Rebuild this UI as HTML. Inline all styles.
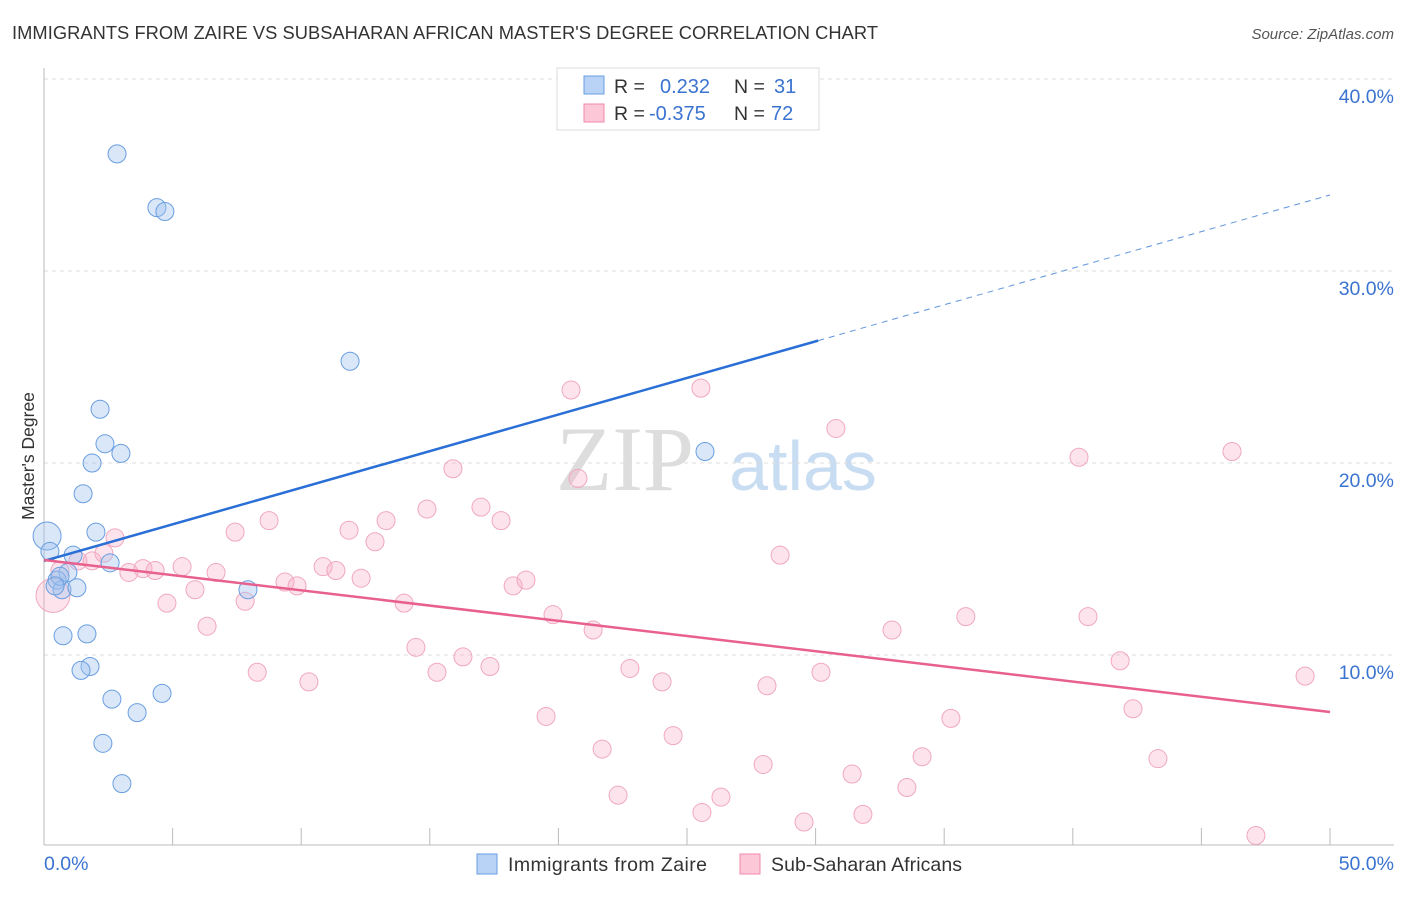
<!DOCTYPE html>
<html><head><meta charset="utf-8"><style>
body{margin:0;background:#fff;font-family:"Liberation Sans",sans-serif;}
</style></head><body>
<svg id="c" width="1406" height="892" xmlns="http://www.w3.org/2000/svg">
<text x="12" y="39" font-size="18.3" fill="#333" textLength="866">IMMIGRANTS FROM ZAIRE VS SUBSAHARAN AFRICAN MASTER'S DEGREE CORRELATION CHART</text>
<text x="1394" y="39" font-size="15" fill="#555" font-style="italic" text-anchor="end">Source: ZipAtlas.com</text>
<text x="625" y="490" font-size="92" fill="#ddd" font-family="Liberation Serif,serif" text-anchor="middle">ZIP</text>
<text x="803" y="490" font-size="70" fill="#c8dcf2" text-anchor="middle">atlas</text>
<text transform="translate(34,456) rotate(-90)" font-size="17.5" fill="#333" text-anchor="middle">Master's Degree</text>
<g id="grid"></g><g id="pts"></g><g id="lines"></g>
<g>
<rect x="557" y="68" width="262" height="62" fill="#fff" stroke="#ddd"/>
<rect x="584" y="76" width="20" height="18" fill="#b8d3f5" stroke="#6a9ee0"/>
<rect x="584" y="104" width="20" height="18" fill="#fcc8d8" stroke="#f08aa8"/>
<text x="614" y="93" font-size="19.5" fill="#333">R = </text><text x="660" y="93" font-size="20" fill="#3a73d0">0.232</text>
<text x="734" y="93" font-size="19.5" fill="#333">N = </text><text x="774" y="93" font-size="20" fill="#3a73d0">31</text>
<text x="614" y="120" font-size="19.5" fill="#333">R = </text><text x="649" y="120" font-size="20" fill="#3a73d0">-0.375</text>
<text x="734" y="120" font-size="19.5" fill="#333">N = </text><text x="771" y="120" font-size="20" fill="#3a73d0">72</text>
</g>
<g>
<rect x="477" y="854" width="20" height="20" fill="#b8d3f5" stroke="#6a9ee0"/>
<text x="508" y="871" font-size="19.5" fill="#333" textLength="199">Immigrants from Zaire</text>
<rect x="740" y="854" width="20" height="20" fill="#fcc8d8" stroke="#f08aa8"/>
<text x="771" y="871" font-size="19.5" fill="#333" textLength="191">Sub-Saharan Africans</text>
</g>
</svg>
<script>
const yTicks=[10,20,30,40];
const yTickLabels=["10.0%","20.0%","30.0%","40.0%"];
const xTicks=[0,5,10,15,20,25,30,35,40,45,50];
const blueX=[2.84,4.39,4.70,11.9,2.18,2.37,2.99,1.87,1.52,2.02,0.12,0.23,1.13,2.57,0.93,0.51,0.70,1.28,7.93,25.7,0.74,1.67,1.79,1.44,2.64,4.59,3.62,2.29,3.03,0.62,0.43];
const blueY=[36.1,33.3,33.1,25.3,22.8,21.0,20.5,20.0,18.4,16.4,16.2,15.4,15.2,14.8,14.3,13.9,13.4,13.5,13.4,20.6,11.0,11.1,9.4,9.2,7.7,8.0,7.0,5.4,3.3,14.1,13.6];
const pinkX=[0.35,0.62,1.32,1.87,2.33,2.76,3.30,3.85,4.32,4.78,5.37,5.87,6.34,6.69,7.43,7.82,8.29,8.75,9.37,9.84,10.30,10.85,11.35,11.86,12.33,12.87,13.30,14.0,14.46,14.89,15.28,15.90,16.29,16.99,17.34,17.77,18.24,18.74,19.52,19.79,20.49,20.76,21.35,21.70,22.32,22.78,24.03,24.46,25.58,25.54,26.32,27.96,28.11,28.62,29.55,30.21,30.79,31.42,31.84,32.97,33.55,34.14,35.26,35.84,40.24,40.59,41.84,42.34,43.31,46.19,47.12,49.03];
const pinkY=[13.1,14.4,14.9,14.9,15.3,16.1,14.3,14.5,14.4,12.7,14.6,13.4,11.5,14.3,16.4,12.8,9.1,17.0,13.8,13.6,8.6,14.6,14.4,16.5,14.0,15.9,17.0,12.7,10.4,17.6,9.1,19.7,9.9,17.7,9.4,17.0,13.6,13.9,6.8,12.1,23.8,19.2,11.3,5.1,2.7,9.3,8.6,5.8,1.8,23.9,2.6,4.3,8.4,15.2,1.3,9.1,21.8,3.8,1.7,11.3,3.1,4.7,6.7,12.0,20.3,12.0,9.7,7.2,4.6,20.6,0.6,8.9];
const blueTrend=[14.9,33.96], blueSolidEnd=30.1;
const pinkTrend=[14.95,7.03];
const NS="http://www.w3.org/2000/svg";
const X=v=>44+v/50*1286, Y=v=>847-v*19.2;
function mk(t,a,p){const e=document.createElementNS(NS,t);for(const k in a)e.setAttribute(k,a[k]);p.appendChild(e);return e;}
const g=document.getElementById('grid'),P=document.getElementById('pts'),L=document.getElementById('lines');
yTicks.forEach((t,i)=>{
 const l=mk('line',{x1:44,x2:1394,y1:Y(t),y2:Y(t),stroke:'#ddd','stroke-dasharray':'4,4'},g);
 
 
 const tx=mk('text',{x:1394,y:Y(t)+24,'font-size':19.5,fill:'#3a73d0','text-anchor':'end'},g);tx.textContent=yTickLabels[i];
 
 
});
const ax=mk('line',{x1:44,x2:44,y1:68,y2:845,stroke:'#bbb'},g);


const bx=mk('line',{x1:44,x2:1394,y1:845,y2:845,stroke:'#bbb'},g);


xTicks.forEach(t=>{if(t===0)return;const l=mk('line',{x1:X(t),x2:X(t),y1:828,y2:845,stroke:'#bbb'},g);
 
 });
const x0=mk('text',{x:44,y:870,'font-size':19.5,fill:'#3a73d0'},g);x0.textContent='0.0%';


const x1=mk('text',{x:1394,y:870,'font-size':19.5,fill:'#3a73d0','text-anchor':'end'},g);x1.textContent='50.0%';


pinkX.forEach((x,i)=>{const c=mk('circle',{cx:X(x),cy:Y(pinkY[i]),r:i===0?17:9,fill:'rgba(248,170,196,0.32)',stroke:'#f0a8be','stroke-width':1},P);
 
 });
blueX.forEach((x,i)=>{const c=mk('circle',{cx:X(x),cy:Y(blueY[i]),r:i===10?14:9,fill:'rgba(160,196,240,0.4)',stroke:'#6a9ee0','stroke-width':1},P);
 
 });
const by=v=>blueTrend[0]+(blueTrend[1]-blueTrend[0])*v/50;
const b1=mk('line',{x1:X(0),y1:Y(by(0)),x2:X(blueSolidEnd),y2:Y(by(blueSolidEnd)),stroke:'#2a6fd6','stroke-width':2.5},L);


const b2=mk('line',{x1:X(blueSolidEnd),y1:Y(by(blueSolidEnd)),x2:X(50),y2:Y(by(50)),stroke:'#5f95dc','stroke-width':1,'stroke-dasharray':'6,5'},L);


const p1=mk('line',{x1:X(0),y1:Y(pinkTrend[0]),x2:X(50),y2:Y(pinkTrend[1]),stroke:'#e8608e','stroke-width':2.5},L);


</script>
</body></html>
